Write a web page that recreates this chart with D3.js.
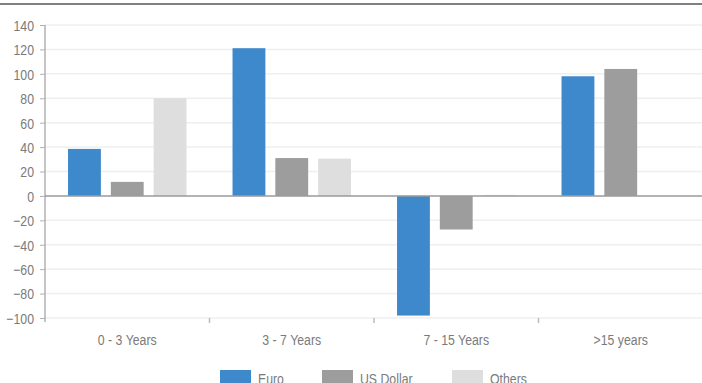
<!DOCTYPE html>
<html>
<head>
<meta charset="utf-8">
<script src="https://cdn.jsdelivr.net/npm/d3@7"></script>
<style>
  html, body { margin: 0; padding: 0; background: #fff; }
  svg { display: block; }
  text { font-family: "Liberation Sans", Arial, sans-serif; fill: #7a7a7a; font-size: 15px; }
</style>
</head>
<body>
<svg id="chart" width="702" height="383"></svg>
<script>
const categories = ["0 - 3 Years", "3 - 7 Years", "7 - 15 Years", ">15 years"];
const seriesNames = ["Euro", "US Dollar", "Others"];
const euro = [38.5, 121, -98, 98];
const usDollar = [11.5, 31, -27.5, 104];
const others = [80, 30.5, 0.8, 0];
const yTicks = [-100, -80, -60, -40, -20, 0, 20, 40, 60, 80, 100, 120, 140];
const colors = ["#3e88cc", "#9d9d9d", "#dedede"];

const seriesValues = [euro, usDollar, others];
const svg = d3.select("#chart");
const W = 702;
const NARROW = 0.82;

// top rule
svg.append("rect").attr("x", 0).attr("y", 3).attr("width", W).attr("height", 2).attr("fill", "#808080");

const x0 = d3.scaleBand().domain(categories).range([45, 703]);
const bw = x0.bandwidth();
const x1 = d3.scaleBand().domain(seriesNames).range([bw * 0.14, bw * 0.86]).paddingInner(10 / 43);
const y = d3.scaleLinear().domain([-100, 140]).range([318, 25]);

// gridlines
svg.append("g").selectAll("line").data(yTicks.filter(d => d !== 0)).join("line")
  .attr("x1", 45).attr("x2", W).attr("y1", d => y(d)).attr("y2", d => y(d))
  .attr("stroke", "#efefef").attr("stroke-width", 1.5);

// y axis
const yAxis = d3.axisLeft(y).tickValues(yTicks).tickSize(5).tickPadding(6).tickFormat(d3.format("d"));
const gy = svg.append("g").attr("transform", "translate(45,0)").call(yAxis);
gy.select(".domain").attr("stroke", "#b0b0b0").attr("stroke-width", 1.5).attr("d", `M0,${y(140)}V${y(-100) + 4}`);
gy.selectAll(".tick line").attr("stroke", "#b0b0b0");
gy.selectAll(".tick text")
  .attr("x", 0).attr("dy", "0.36em")
  .attr("transform", `translate(-11,0) scale(${NARROW},1)`)
  .attr("font-family", null).attr("font-size", null)
  .style("font-size", "15px").attr("fill", "#7a7a7a");

// x axis (ticks at band boundaries)
const boundaries = categories.slice(1).map(c => x0(c));
svg.append("g").selectAll("line").data(boundaries).join("line")
  .attr("x1", d => d).attr("x2", d => d).attr("y1", y(-100)).attr("y2", y(-100) + 5)
  .attr("stroke", "#bbbbbb").attr("stroke-width", 1.5);
svg.append("g").selectAll("text").data(categories).join("text")
  .attr("transform", d => `translate(${x0(d) + bw / 2},345) scale(${NARROW},1)`)
  .attr("text-anchor", "middle")
  .text(d => d);

// bars
const groups = svg.append("g").selectAll("g").data(categories).join("g")
  .attr("transform", d => `translate(${x0(d)},0)`);
groups.selectAll("rect")
  .data((c, i) => seriesNames.map((s, j) => ({ s, j, v: seriesValues[j][i] })))
  .join("rect")
  .attr("x", d => x1(d.s))
  .attr("width", x1.bandwidth())
  .attr("y", d => y(Math.max(0, d.v)))
  .attr("height", d => Math.abs(y(d.v) - y(0)))
  .attr("fill", d => colors[d.j]);

// zero line
svg.append("line").attr("x1", 45).attr("x2", W).attr("y1", y(0)).attr("y2", y(0))
  .attr("stroke", "#9a9a9a").attr("stroke-width", 1.5);

// legend
const legendX = [220, 322, 452];
const lg = svg.append("g").selectAll("g").data(seriesNames).join("g")
  .attr("transform", (d, i) => `translate(${legendX[i]},370)`);
lg.append("rect").attr("width", 31).attr("height", 14).attr("fill", (d, i) => colors[i]);
lg.append("text").attr("transform", `translate(38,14) scale(${NARROW},1)`).text(d => d);
</script>
</body>
</html>
